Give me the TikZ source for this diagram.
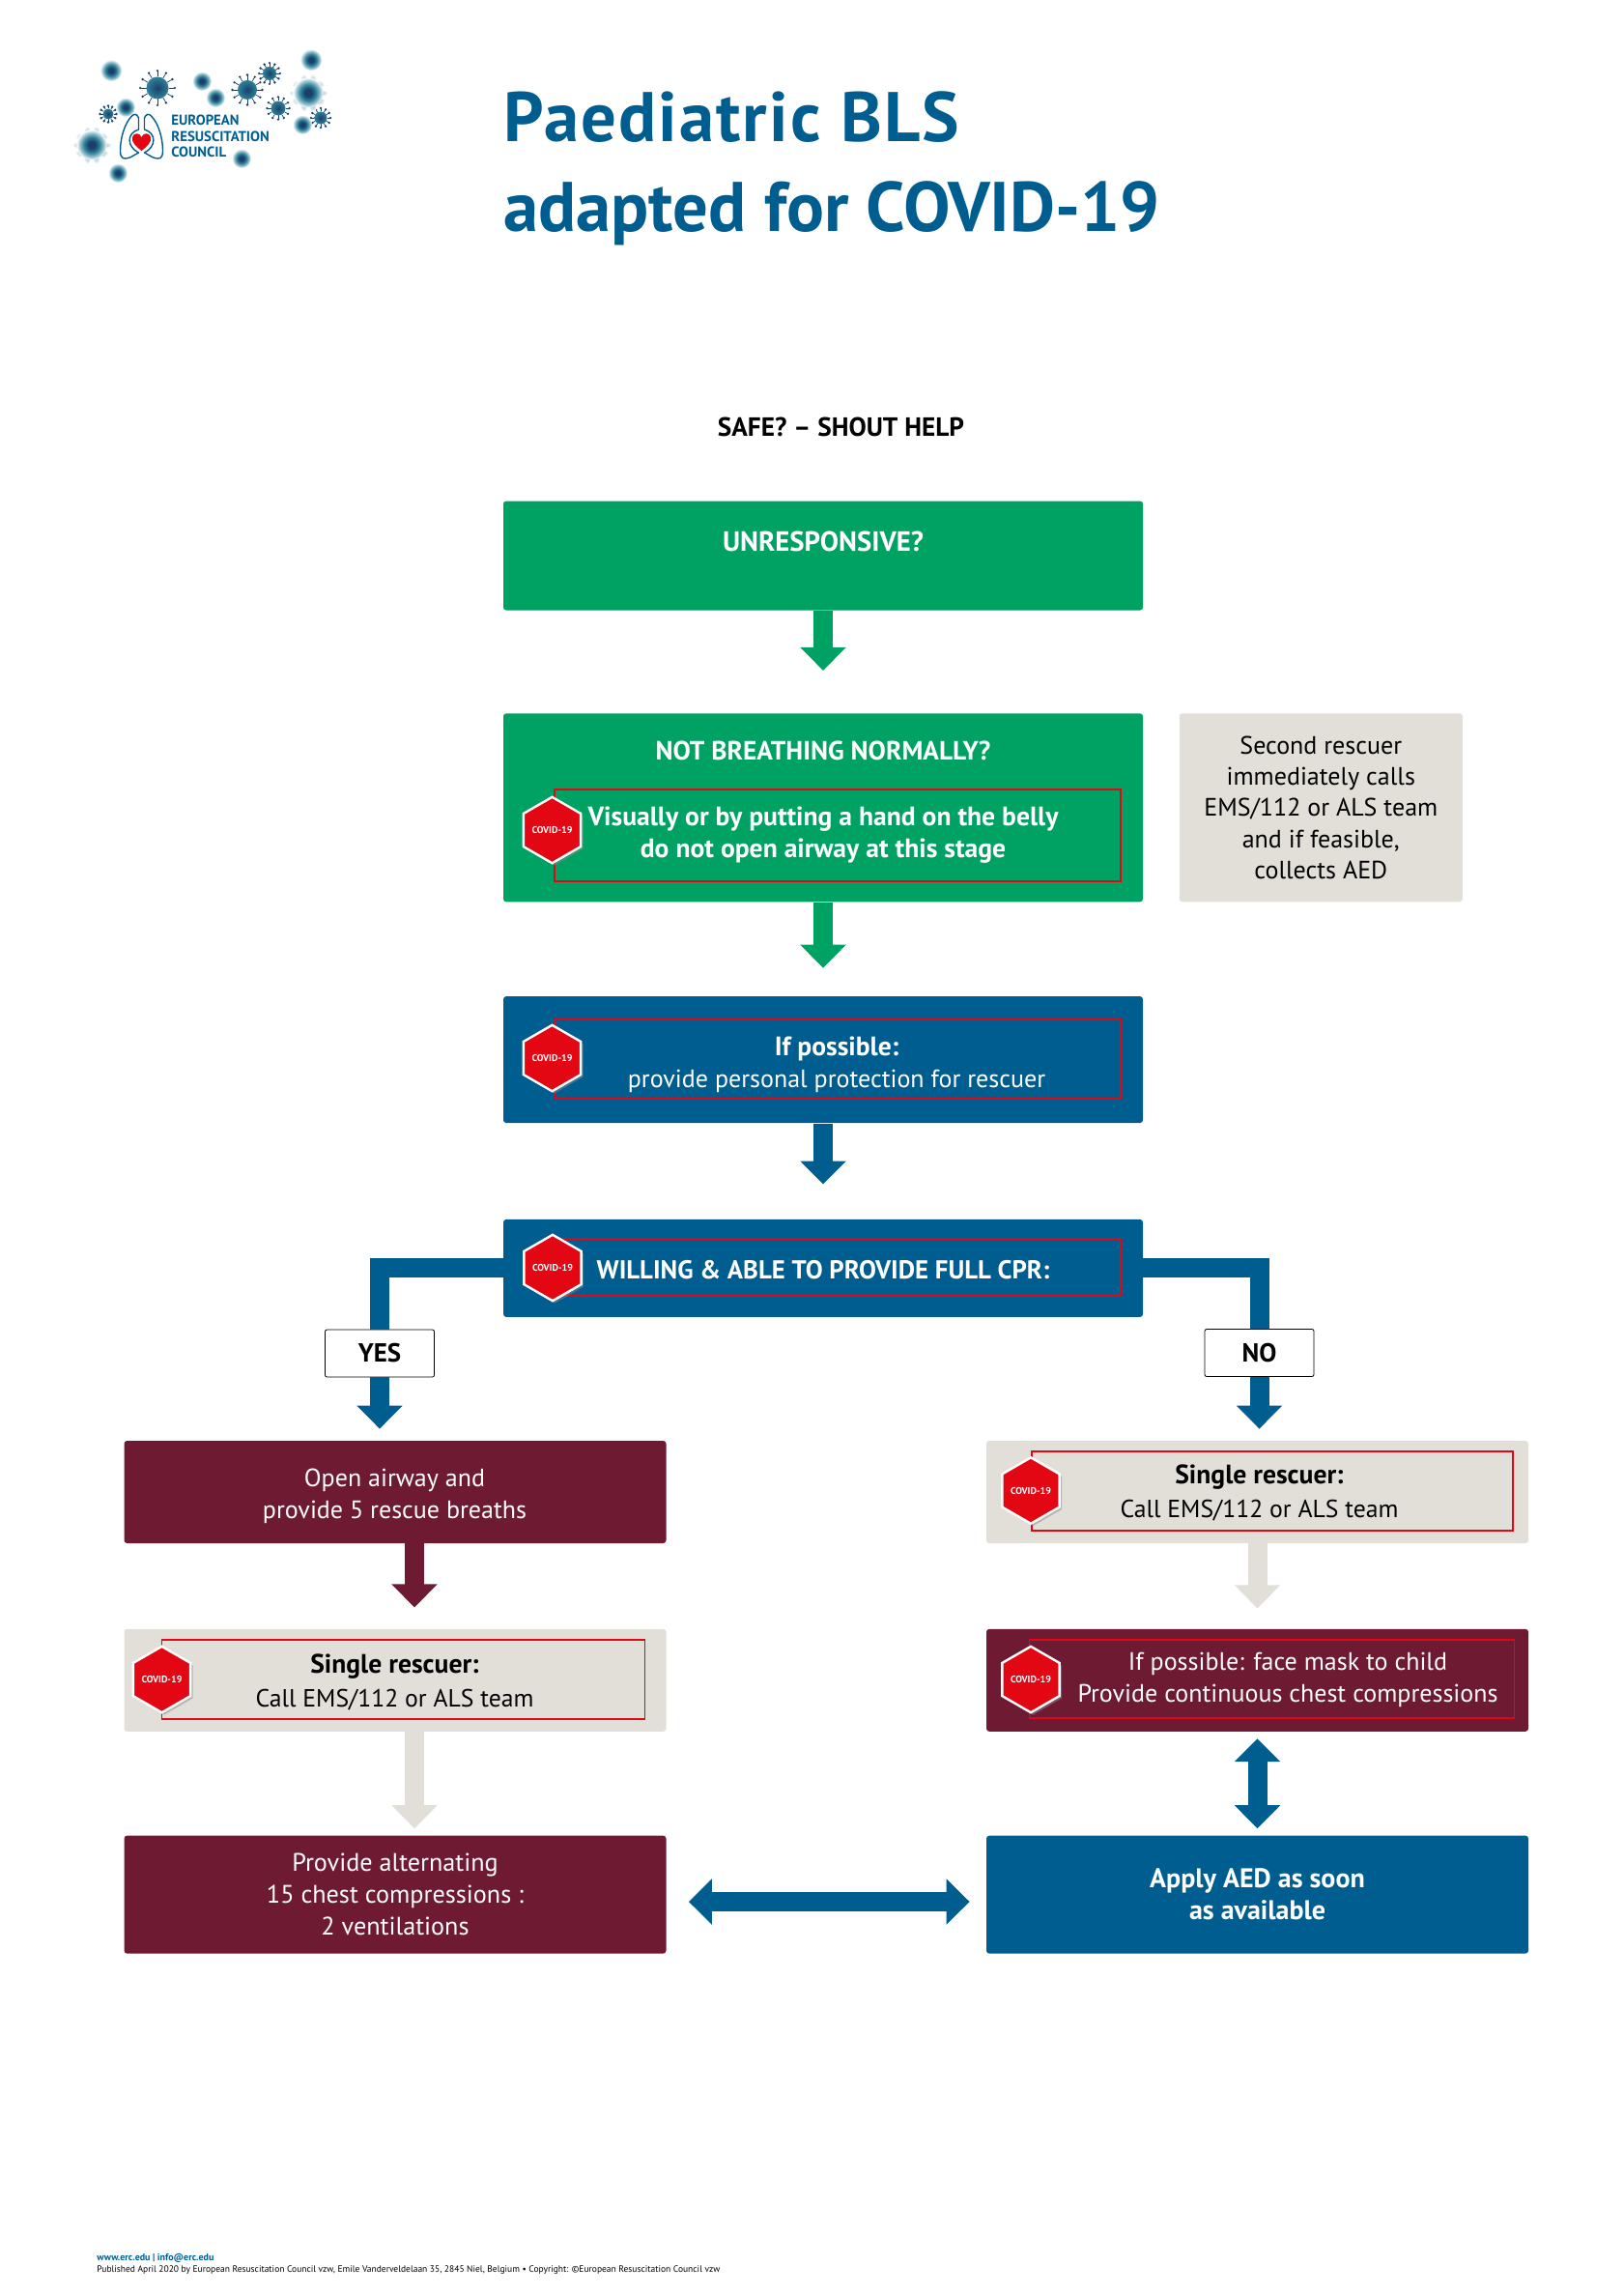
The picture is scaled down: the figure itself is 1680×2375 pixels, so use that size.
\documentclass[tikz,border=0pt]{standalone}
\usepackage{fontspec}
\setmainfont{PT Sans}
\usepackage{tikz}
\usetikzlibrary{arrows.meta,positioning,shapes.geometric,shadows}

\definecolor{ercgreen}{HTML}{00A264}
\definecolor{ercblue}{HTML}{005D8F}
\definecolor{ercwine}{HTML}{6E1A33}
\definecolor{ercgrey}{HTML}{E1DFD8}
\definecolor{ercred}{HTML}{E30613}
\definecolor{virusdark}{HTML}{1B3F6B}
\definecolor{virusteal}{HTML}{2E8299}
\definecolor{viruspale}{HTML}{A9C6D4}

\pgfdeclareradialshading{softball}{\pgfpointorigin}{color(0bp)=(virusdark); color(6bp)=(virusdark); color(13bp)=(virusteal); color(19bp)=(virusteal!55!white); color(25bp)=(white); color(50bp)=(white)}
\pgfdeclareradialshading{softspike}{\pgfpointorigin}{color(0bp)=(viruspale); color(10bp)=(viruspale); color(25bp)=(white); color(50bp)=(white)}

\tikzset{
  panel/.style={rectangle, rounded corners=1.5pt, inner sep=0pt, align=center, minimum width=331pt},
  sidepanel/.style={panel, minimum width=280.5pt, minimum height=53pt},
  lighttext/.style={text=white, align=center, inner sep=0pt, font=\fontsize{13}{16.5}\selectfont},
  darktext/.style={lighttext, text=black, font=\fontsize{12.85}{17.5}\selectfont},
  redframe/.style={draw=ercred, line width=0.7pt, inner sep=0pt, minimum width=#1},
  covidsign/.style={regular polygon, regular polygon sides=6, regular polygon rotate=30, minimum size=31.5pt, inner sep=0pt,
    fill=ercred, draw=white, line width=1.2pt, text=white, font=\fontsize{5}{5}\selectfont\bfseries,
    drop shadow={shadow xshift=1.2pt, shadow yshift=-1.2pt, fill=black!45}},
  answer/.style={draw=black, rectangle, rounded corners=1pt, fill=white, line width=0.4pt, inner sep=0pt,
    minimum width=56.5pt, minimum height=24.5pt, font=\fontsize{13.5}{14}\selectfont\bfseries},
  flow/.style={line width=10pt, -{Triangle[length=12pt,width=23pt]}},
  flowboth/.style={line width=10pt, {Triangle[length=12pt,width=23pt]}-{Triangle[length=12pt,width=23pt]}},
  flowline/.style={line width=10pt, draw=ercblue}
}

\newcommand{\headline}[1]{{\fontsize{13.8}{17}\selectfont\bfseries #1}}
\newcommand{\sharpvirus}[3]{%
  \foreach \a in {0,30,...,330}{
    \draw[virusdark, line width=0.35pt] (#1,#2) ++(\a:#3) -- ++(\a:#3*0.5);
    \fill[virusdark] (#1,#2) ++(\a:#3*1.55) circle (1.3);
  }
  \shade[inner color=virusdark, outer color=virusteal] (#1,#2) circle (#3);
}
\newcommand{\softvirus}[3]{%
  \shade[shading=softball] (#1,#2) circle (#3*1.25);
}
\newcommand{\softbigvirus}[3]{%
  \foreach \a in {0,36,...,324}{
    \shade[shading=softspike] (#1,#2) ++(\a:#3*1.3) circle (3.6);
  }
  \shade[shading=softball] (#1,#2) circle (#3*1.2);
}

\begin{document}
\begin{tikzpicture}[x=0.5pt, y=-0.5pt]
    \useasboundingbox (0,0) rectangle (1680,2375);

    % logo
    \sharpvirus{163}{91}{11.5}
    \sharpvirus{256}{93}{10}
    \sharpvirus{279}{76}{7}
    \sharpvirus{288}{112}{7.5}
    \sharpvirus{332}{122}{6.5}
    \sharpvirus{112}{118}{5.5}
    \softvirus{115}{73}{9}
    \softvirus{130}{111}{8}
    \softvirus{122}{179}{8}
    \softvirus{209}{84}{8}
    \softvirus{223}{101}{8}
    \softvirus{322}{62}{9}
    \softvirus{313}{129}{8}
    \softvirus{250}{164}{8}
    \softbigvirus{95}{150}{13}
    \softbigvirus{319}{96}{13}
    \foreach \s in {1,-1}{
      \begin{scope}[shift={(146.5,0)}, xscale=\s]
        \draw[ercblue, line width=0.7pt, line join=round]
          (-3,122) .. controls (-5,117) and (-8,118) .. (-10,120)
          .. controls (-18,128) and (-22,144) .. (-22,156)
          .. controls (-22,165) and (-18,165) .. (-12,163)
          -- (-3,158) .. controls (-15,152) and (-16,138) .. (-3,134) -- cycle;
      \end{scope}
    }
    \fill[ercred] (146.5,156) .. controls (140,151) and (136,147) .. (137,142)
      .. controls (138,137) and (145,137) .. (146.5,142)
      .. controls (148,137) and (155,137) .. (156,142)
      .. controls (157,147) and (153,151) .. (146.5,156) -- cycle;
    \node (logotext) [anchor=west, align=left, inner sep=0pt, text=ercblue, font=\fontsize{7.4}{8.2}\selectfont\bfseries] at (177,141) {EUROPEAN\\RESUSCITATION\\COUNCIL};

    % title
    \node (title) [anchor=west, align=left, inner sep=0pt, text=ercblue, font=\fontsize{36.3}{46.5}\selectfont\bfseries] at (521,174) {{\addfontfeature{LetterSpace=3}Paediatric BLS}\\adapted for COVID-19};
    \node (safe) [inner sep=0pt, font=\fontsize{13.65}{14}\selectfont\bfseries] at (870.5,441.5) {SAFE? – SHOUT HELP};

    % main column
    \node (unresp) [panel, fill=ercgreen, minimum height=56.5pt] at (852,575) {};
    \node (unresptext) [lighttext, font=\fontsize{14.4}{15}\selectfont\bfseries] at (852,560.5) {UNRESPONSIVE?};
    \node (breath) [panel, fill=ercgreen, minimum height=97.5pt, below=53pt of unresp] {};
    \node (breathhead) [lighttext, font=\fontsize{13.7}{14}\selectfont\bfseries] at (852,777) {NOT BREATHING NORMALLY?};
    \node (breathframe) [redframe=293pt, minimum height=47.5pt] at (867,864.5) {};
    \node (breathsign) [covidsign] at (571.5,859) {COVID-19};
    \node (breathtext) [lighttext, font=\fontsize{13.8}{16.5}\selectfont\bfseries] at (852,864) {Visually or by putting a hand on the belly\\do not open airway at this stage};
    \node (second) [panel, fill=ercgrey, minimum width=146.5pt, minimum height=97.5pt, right=18.5pt of breath, text=black, font=\fontsize{13}{16.2}\selectfont] {Second rescuer\\immediately calls\\EMS/112 or ALS team\\and if feasible,\\collects AED};
    \node (protect) [panel, fill=ercblue, minimum height=65.5pt, below=48.5pt of breath] {};
    \node (protectframe) [redframe=293pt, minimum height=41pt] at (867,1096) {};
    \node (protectsign) [covidsign] at (571.5,1095) {COVID-19};
    \node (protecttext) [lighttext] at (866,1101.5) {\headline{If possible:}\\provide personal protection for rescuer};
    \node (willing) [panel, fill=ercblue, minimum height=50.5pt, below=49.5pt of protect] {};
    \node (willingframe) [redframe=290.5pt, minimum height=29.5pt] at (869.5,1311.5) {};
    \node (willingsign) [covidsign] at (572,1312) {COVID-19};
    \node (willingtext) [lighttext, font=\fontsize{13.4}{14}\selectfont\bfseries] at (852,1314) {WILLING \& ABLE TO PROVIDE FULL CPR:};

    % answers
    \node (yes) [answer] at (393,1400.5) {YES};
    \node (no) [answer] at (1303.5,1400) {NO};

    % left column
    \node (airway) [sidepanel, fill=ercwine] at (409,1544) {};
    \node (airwaytext) [lighttext] at (408.5,1548.5) {Open airway and\\provide 5 rescue breaths};
    \node (singleleft) [sidepanel, fill=ercgrey, below=44pt of airway] {};
    \node (singleleftframe) [redframe=250pt, minimum height=41pt] at (417.5,1738) {};
    \node (singleleftsign) [covidsign] at (167.5,1738) {COVID-19};
    \node (singlelefttext) [darktext] at (408.5,1740.5) {\headline{Single rescuer:}\\Call EMS/112 or ALS team};
    \node (alternate) [sidepanel, fill=ercwine, minimum height=61pt, below=53.5pt of singleleft, text=white, font=\fontsize{13.1}{16.5}\selectfont] {Provide alternating\\15 chest compressions :\\2 ventilations};

    % right column
    \node (singleright) [sidepanel, fill=ercgrey] at (1301.5,1544) {};
    \node (singlerightframe) [redframe=249pt, minimum height=41pt] at (1317,1543) {};
    \node (singlerightsign) [covidsign] at (1067,1542.5) {COVID-19};
    \node (singlerighttext) [darktext] at (1303.5,1545) {\headline{Single rescuer:}\\Call EMS/112 or ALS team};
    \node (mask) [sidepanel, fill=ercwine, below=44pt of singleright] {};
    \node (maskframe) [redframe=251pt, minimum height=40.5pt] at (1316.5,1737.5) {};
    \node (masksign) [covidsign] at (1067,1738) {COVID-19};
    \node (masktext) [lighttext] at (1333,1738.5) {If possible: face mask to child\\Provide continuous chest compressions};
    \node (aed) [sidepanel, fill=ercblue, minimum height=61pt, below=53.5pt of mask, text=white, font=\fontsize{14}{16.5}\selectfont\bfseries] {Apply AED as soon\\as available};

    % connectors
    \coordinate (airdrop) at (429,1600);
    \coordinate (arrowmid) at (850,1968);
    \draw[flow, ercgreen, shorten >=22pt] (unresp) -- (breath);
    \draw[flow, ercgreen, shorten >=14.5pt] (breath) -- (protect);
    \draw[flow, ercblue, shorten >=18pt] (protect) -- (willing);
    \draw[flowline] (willing.west) -| (yes.north);
    \draw[flowline] (willing.east) -| (no.north);
    \draw[flow, ercblue, shorten >=6pt] (yes.south) -- (yes.south |- airway.north);
    \draw[flow, ercblue, shorten >=6pt] (no.south) -- (no.south |- singleright.north);
    \draw[flow, ercwine, shorten >=11pt] (airdrop |- airway.south) -- (airdrop |- singleleft.north);
    \draw[flow, ercgrey, shorten >=3.5pt] (airdrop |- singleleft.south) -- (airdrop |- alternate.north);
    \draw[flow, ercgrey, shorten >=10.5pt] (singleright) -- (mask);
    \draw[flowboth, ercblue, shorten >=3.5pt, shorten <=3.5pt] (mask) -- (aed);
    \draw[flowboth, ercblue, shorten >=8.5pt, shorten <=11.5pt] (alternate.east |- arrowmid) -- (aed.west |- arrowmid);

    % footer
    \node (footer) [anchor=north west, align=left, inner sep=0pt, font=\fontsize{4.75}{6}\selectfont] at (100,2331.5) {\textcolor{ercblue}{\fontsize{5}{6}\selectfont\textbf{www.erc.edu | info@erc.edu}}\\Published April 2020 by European Resuscitation Council vzw, Emile Vanderveldelaan 35, 2845 Niel, Belgium • Copyright: ©European Resuscitation Council vzw};
  \end{tikzpicture}
\end{document}
